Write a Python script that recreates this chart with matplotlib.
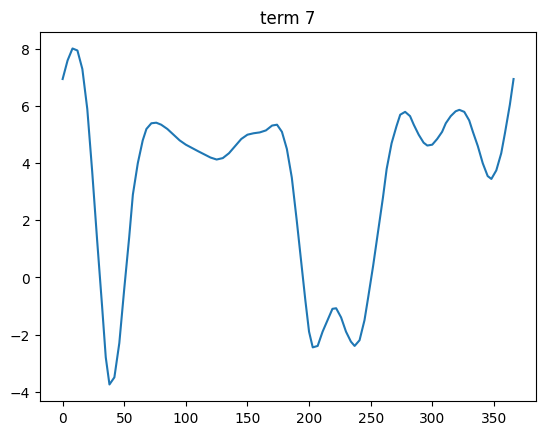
import matplotlib
matplotlib.use("Agg")
import matplotlib.pyplot as plt

days = [0, 4, 8, 12, 16, 20, 24, 28, 32, 35, 38, 42, 46, 50, 54, 57, 61, 65, 68, 72,
        76, 80, 85, 90, 95, 100, 110, 120, 125, 130, 135, 140, 145, 150, 155, 160, 165,
        170, 174, 178, 182, 186, 190, 194, 197, 200, 203, 207, 211, 215, 219, 222, 226,
        230, 234, 237, 241, 245, 248, 252, 256, 260, 263, 267, 271, 274, 278, 282, 285,
        289, 293, 296, 300, 304, 308, 311, 315, 319, 322, 326, 330, 333, 337, 341, 345,
        348, 352, 356, 359, 363, 366]
values = [6.95, 7.6, 8.02, 7.95, 7.3, 5.9, 3.7, 1.3, -1.0, -2.8, -3.75, -3.5, -2.3, -0.4,
          1.4, 2.9, 4.0, 4.8, 5.2, 5.4, 5.42, 5.35, 5.2, 5.0, 4.8, 4.65, 4.42, 4.2, 4.13,
          4.18, 4.35, 4.6, 4.85, 5.0, 5.05, 5.08, 5.15, 5.32, 5.35, 5.1, 4.5, 3.5, 2.0,
          0.4, -0.8, -1.9, -2.45, -2.4, -1.9, -1.5, -1.1, -1.08, -1.4, -1.9, -2.25, -2.4,
          -2.2, -1.5, -0.7, 0.4, 1.6, 2.8, 3.8, 4.7, 5.3, 5.7, 5.8, 5.65, 5.35, 5.0, 4.72,
          4.62, 4.65, 4.85, 5.1, 5.4, 5.65, 5.82, 5.87, 5.8, 5.5, 5.1, 4.6, 4.0, 3.55,
          3.45, 3.75, 4.35, 5.05, 6.05, 6.95]

fig, ax = plt.subplots()
ax.plot(days, values)
ax.set_title("term 7")
plt.savefig("out.png", bbox_inches="tight")
